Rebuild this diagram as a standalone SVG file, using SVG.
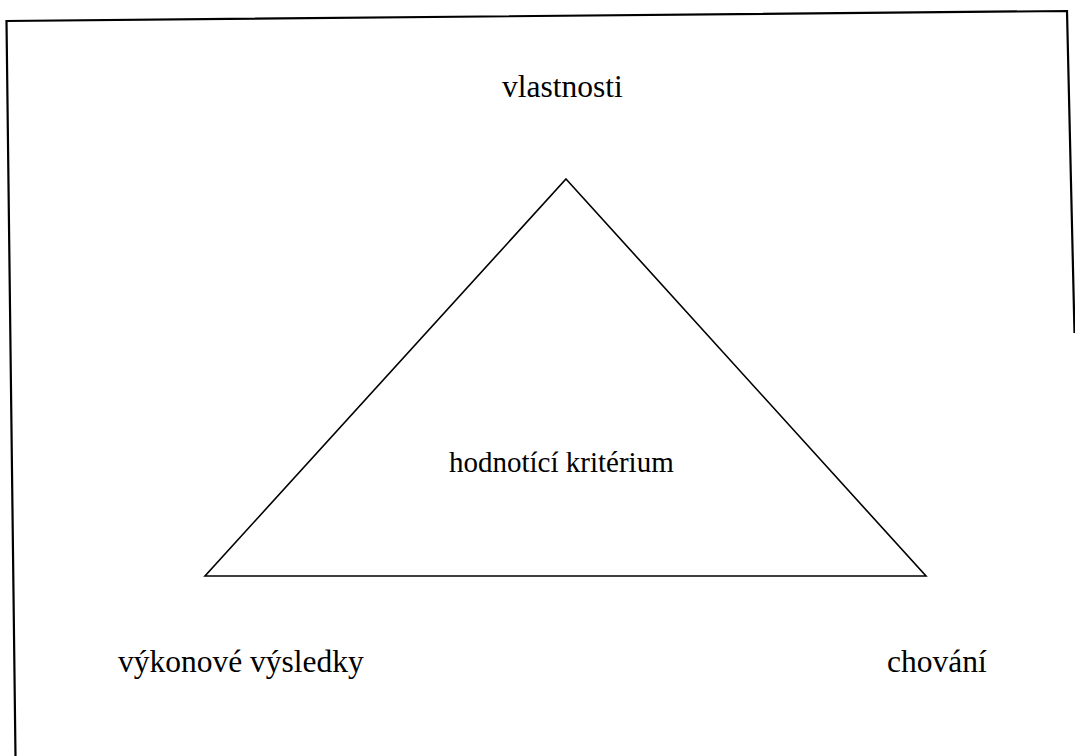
<svg xmlns="http://www.w3.org/2000/svg" width="1075" height="756" viewBox="0 0 1075 756">
<style>
.frame{fill:none;stroke:#000;stroke-width:2.2}
.tri{fill:none;stroke:#000;stroke-width:1.6;stroke-linejoin:miter}
text{font-family:'Liberation Serif','Times New Roman',Times,serif;fill:#000}
.big{font-size:31.5px}
.mid{font-size:29px}
</style>
<rect width="1075" height="756" fill="#fff"/>
<g id="frame">
<path class="frame" d="M15.5,757 L6.5,21 L1067,11 L1074.5,333"/>
</g>
<g id="connectors">
<polygon id="triangle" class="tri" points="566,179 926,576 205,576"/>
</g>
<g id="node-vlastnosti"><text class="big" x="502" y="97">vlastnosti</text></g>
<g id="node-hodnotici"><text class="mid" x="449" y="472">hodnotící kritérium</text></g>
<g id="node-vykonove"><text class="big" x="118" y="672">výkonové výsledky</text></g>
<g id="node-chovani"><text class="big" x="887" y="672">chování</text></g>
</svg>
